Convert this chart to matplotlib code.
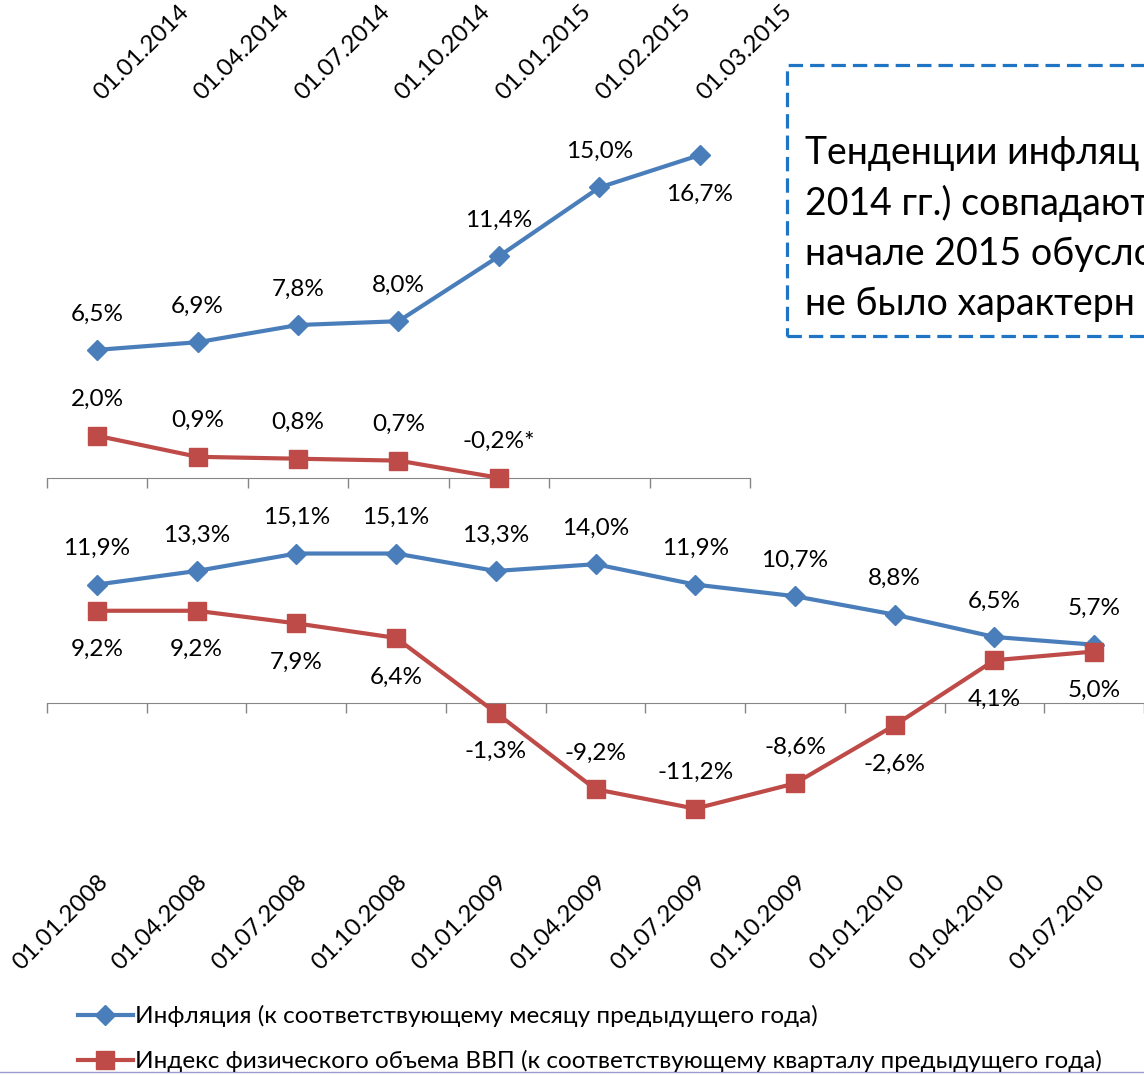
import matplotlib
matplotlib.use('Agg')
import matplotlib.pyplot as plt
import matplotlib.patches as mpatches
import matplotlib.lines as mlines
import matplotlib.transforms as mtransforms
import numpy as np

plt.rcParams['font.family'] = ['Lato', 'Open Sans', 'DejaVu Sans']

# data
top_dates = ['01.01.2014', '01.04.2014', '01.07.2014', '01.10.2014',
             '01.01.2015', '01.02.2015', '01.03.2015']
top_infl = [6.5, 6.9, 7.8, 8.0, 11.4, 15.0, 16.7]
top_gdp = [2.0, 0.9, 0.8, 0.7, -0.2]

bot_dates = ['01.01.2008', '01.04.2008', '01.07.2008', '01.10.2008',
             '01.01.2009', '01.04.2009', '01.07.2009', '01.10.2009',
             '01.01.2010', '01.04.2010', '01.07.2010']
bot_infl = [11.9, 13.3, 15.1, 15.1, 13.3, 14.0, 11.9, 10.7, 8.8, 6.5, 5.7]
bot_gdp = [9.2, 9.2, 7.9, 6.4, -1.3, -9.2, -11.2, -8.6, -2.6, 4.1, 5.0]

legend_labels = ['Инфляция (к соответствующему месяцу предыдущего года)',
                 'Индекс физического объема ВВП (к соответствующему кварталу предыдущего года)']
# the note is cut off at the right edge of the slide
note_lines = ['Тенденции инфляц',
              '2014 гг.) совпадают',
              'начале 2015 обусло',
              'не было характерн']

BLUE = '#4A7EBB'
RED = '#BE4B48'
GRAY = '#868686'
FS = 17.5

W, H = 1144, 1075
fig = plt.figure(figsize=(W / 100, H / 100), dpi=100)


def px_axes(x0, y0, x1, y1):
    return fig.add_axes([x0 / W, 1 - y1 / H, (x1 - x0) / W, (y1 - y0) / H])


def pct(v):
    return f'{v:.1f}%'.replace('.', ',')


def setup(ax, n, labels, axis_y, top_labels):
    for s in ['top', 'left', 'right']:
        ax.spines[s].set_visible(False)
    ax.spines['bottom'].set_position(('data', axis_y))
    ax.spines['bottom'].set_color(GRAY)
    ax.set_yticks([])
    ax.set_xticks(np.arange(-0.5, n + 0.5, 1.0))
    ax.set_xticklabels([])
    ax.tick_params(axis='x', which='major', direction='out', length=7.5,
                   width=1, color=GRAY)
    ax.set_xticks(np.arange(n), labels=labels, minor=True)
    if top_labels:
        ax.tick_params(axis='x', which='minor', bottom=False, labelbottom=False,
                       top=True, labeltop=True, length=0, pad=0, labelsize=FS)
        shift = mtransforms.ScaledTranslation(5 / 100, 0, fig.dpi_scale_trans)
        for t in ax.xaxis.get_minor_ticks():
            t.label2.set_rotation(45)
            t.label2.set_ha('left')
            t.label2.set_va('baseline')
            t.label2.set_rotation_mode('anchor')
            t.label2.set_transform(t.label2.get_transform() + shift)
    else:
        ax.tick_params(axis='x', which='minor', length=0, pad=121, labelsize=FS)
        for t in ax.xaxis.get_minor_ticks():
            t.label1.set_rotation(45)
            t.label1.set_ha('right')
            t.label1.set_va('top')
            t.label1.set_rotation_mode('anchor')


def label_points(ax, vals, where, suffix=None):
    for i, v in enumerate(vals):
        txt = pct(v)
        if suffix and suffix.get(i):
            txt += suffix[i]
        dy = 36 if where[i] == 'a' else -39
        ax.annotate(txt, (i, v), xytext=(0, dy), textcoords='offset pixels',
                    ha='center', va='center', fontsize=FS, annotation_clip=False)


# top chart (2014-2015)
ax_top = px_axes(47, 101, 750, 500)
ax_top.set_xlim(-0.5, 6.5)
ax_top.set_ylim(-(500 - 474) / 19.1, (474 - 101) / 19.1)
setup(ax_top, len(top_dates), top_dates, -0.2, True)
ax_top.plot(range(len(top_infl)), top_infl, color=BLUE, lw=3, marker='D',
            ms=10.5, mec=BLUE, clip_on=False, zorder=3)
ax_top.plot(range(len(top_gdp)), top_gdp, color=RED, lw=3, marker='s',
            ms=13, mec=RED, clip_on=False, zorder=3)
label_points(ax_top, top_infl, 'aaaaaab')
label_points(ax_top, top_gdp, 'aaaaa', suffix={4: '*'})

# bottom chart (2008-2010)
ax_bot = px_axes(47, 520, 1144, 865)
ax_bot.set_xlim(-0.5, -0.5 + (1144 - 47) / 100.5)
ax_bot.set_ylim(-(865 - 700) / 9.7, (700 - 520) / 9.7)
setup(ax_bot, len(bot_dates), bot_dates, -0.3, False)
l1, = ax_bot.plot(range(len(bot_infl)), bot_infl, color=BLUE, lw=3, marker='D',
                  ms=10.5, mec=BLUE, clip_on=False, zorder=3)
l2, = ax_bot.plot(range(len(bot_gdp)), bot_gdp, color=RED, lw=3, marker='s',
                  ms=13, mec=RED, clip_on=False, zorder=3)
label_points(ax_bot, bot_infl, 'a' * 11)
label_points(ax_bot, bot_gdp, 'bbbbbaaabbb')

fig.legend([l1, l2], legend_labels, loc='upper left',
           bbox_to_anchor=(78 / W, 1 - 1005 / H), frameon=False, borderpad=0,
           borderaxespad=0, handlelength=2.25, handletextpad=0.1,
           labelspacing=0.95, fontsize=FS)

# dashed note box (cut at the right edge)
box = mpatches.Rectangle((787 / W, 1 - 336 / H), 0.5, 271 / H,
                         transform=fig.transFigure, fill=False, ec='#1F74C4',
                         lw=2.3, ls=(0, (4.5, 2.2)))
fig.add_artist(box)
for k, line in enumerate(note_lines):
    fig.text(805 / W, 1 - (153 + 50.5 * k) / H, line, fontsize=27,
             ha='left', va='center')

fig.add_artist(mlines.Line2D([0, 1], [1 - 1072 / H] * 2, color='#9B9BD0',
                             lw=1, transform=fig.transFigure))

fig.savefig('out.png', dpi=100)
